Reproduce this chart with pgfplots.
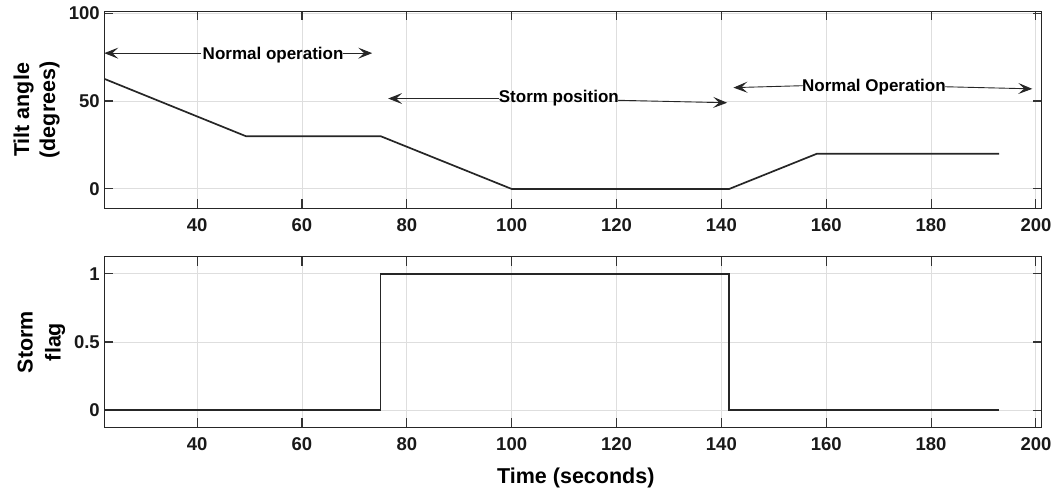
\documentclass[border=0pt]{standalone}
\usepackage{pgfplots}
\pgfplotsset{compat=1.18}
\usepackage{fontspec}
\setmainfont{Liberation Sans}
\usetikzlibrary{arrows.meta}

\pgfplotsset{
  myax/.style={
    scale only axis, width=937.4pt,
    xmin=22.3, xmax=201.1,
    axis line style={black!85, line width=1.4pt},
    grid=major, major grid style={black!13, line width=0.9pt},
    tick style={black!80, line width=1.1pt}, major tick length=9pt,
    tick align=inside,
    xtick={40,60,...,200},
    ticklabel style={font=\fontsize{18.5}{20}\selectfont\bfseries, text=black!90},
    xticklabel style={yshift=-7pt},
    yticklabel style={xshift=-1pt},
    /pgf/number format/assume math mode=true,
    clip=false,
  },
}
\tikzset{
  arr/.style={black!85, line width=0.9pt, -{Stealth[length=14pt,width=11pt,inset=6pt]}},
  ann/.style={font=\fontsize{17}{19}\selectfont\bfseries, text=black, inner sep=0pt},
}

\begin{document}
\begin{tikzpicture}[x=1pt,y=1pt]
% top axis
\begin{axis}[myax, at={(104.3pt,283.7pt)}, anchor=south west,
  height=197pt, ymin=-11, ymax=101, ytick={0,50,100}]
\addplot[black!85, line width=1.7pt] coordinates {
  (22.3,62.6) (49.3,30) (75,30) (100,0) (141.5,0) (158.2,20) (193,20)
};
% Normal operation (first)
\node[ann, anchor=base] at (axis cs:54.5,73.8) {Normal operation};
\draw[arr] (axis cs:40.8,77.2) -- (axis cs:22.3,77.2);
\draw[arr] (axis cs:67.8,77.2) -- (axis cs:73.4,77.2);
% Storm position
\node[ann, anchor=base] at (axis cs:109.0,49.0) {Storm position};
\draw[arr] (axis cs:97.6,51.4) -- (axis cs:76.45,51.4);
\draw[arr] (axis cs:120.3,50.4) -- (axis cs:141.1,49.0);
% Normal Operation (second)
\node[ann, anchor=base] at (axis cs:169.1,55.3) {Normal Operation};
\draw[arr] (axis cs:155.5,58.7) -- (axis cs:142.3,57.6);
\draw[arr] (axis cs:182.7,58.1) -- (axis cs:199.3,56.9);
\end{axis}
% bottom axis
\begin{axis}[myax, at={(104.3pt,64.7pt)}, anchor=south west,
  height=170.6pt, ymin=-0.125, ymax=1.125, ytick={0,0.5,1},
  yticklabel style={/pgf/number format/fixed}]
\addplot[black!85, line width=1.7pt] coordinates {
  (22.3,0) (75,0) (75,1) (141.5,1) (141.5,0) (193,0)
};
\end{axis}
% labels
\node[rotate=90, align=center, inner sep=0pt,
  font=\fontsize{21.5}{26}\selectfont\bfseries] at (36.5,382) {Tilt angle\\(degrees)};
\node[rotate=90, align=center, inner sep=0pt,
  font=\fontsize{21.5}{28}\selectfont\bfseries] at (41.5,150) {Storm\\flag};
\node[anchor=base, inner sep=0pt,
  font=\fontsize{21.5}{26}\selectfont\bfseries] at (575.8,8.7) {Time (seconds)};
\pgfresetboundingbox
\useasboundingbox (0,0) rectangle (1058,492);
\end{tikzpicture}
\end{document}
